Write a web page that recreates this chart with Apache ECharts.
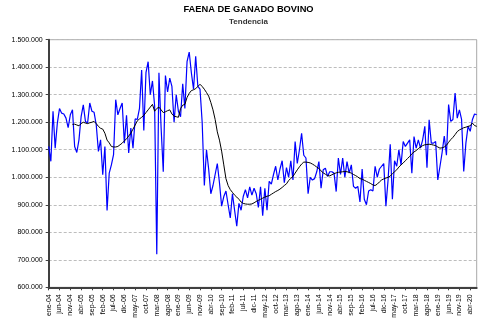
<!DOCTYPE html>
<html>
<head>
<meta charset="utf-8">
<script src="https://cdn.jsdelivr.net/npm/echarts@6/dist/echarts.min.js"></script>
<style>
  html, body { margin: 0; padding: 0; background: #fff; }
  #chart { width: 497px; height: 329px; }
</style>
</head>
<body>
<div id="chart"></div>
<script>
// Monthly cattle slaughter (head), ene-04 .. jul-20
const monthNames = ['ene','feb','mar','abr','may','jun','jul','ago','sep','oct','nov','dic'];
const firstYear = 2004;
const monthCount = 199;

const faena = [
  1112000,1058000,1240000,1106000,1197000,1250000,1233000,1230000,1215000,1180000,1227000,1245000,
  1112000,1090000,1136000,1220000,1263000,1203000,1197000,1270000,1240000,1236000,1190000,1094000,
  1136000,1009000,1112000,879000,1015000,1045000,1082000,1282000,1227000,1250000,1270000,1124000,
  1225000,1088000,1179000,1106000,1212000,1210000,1250000,1390000,1170000,1380000,1420000,1300000,
  1350000,1260000,720000,1380000,1180000,1020000,1370000,1310000,1360000,1330000,1200000,1300000,
  1240000,1220000,1340000,1250000,1420000,1455000,1380000,1320000,1440000,1330000,1320000,1200000,
  970000,1100000,1030000,940000,970000,1010000,1050000,980000,895000,930000,950000,900000,
  852000,940000,880000,822000,905000,880000,930000,955000,925000,965000,935000,960000,
  940000,890000,965000,860000,960000,880000,985000,975000,1010000,1040000,990000,1030000,
  1060000,980000,1035000,1000000,1060000,990000,1130000,1050000,1100000,1160000,1080000,1070000,
  940000,1000000,990000,995000,1020000,1057000,960000,1027000,1033000,1003000,1020000,1020000,
  1015000,948000,1070000,1010000,1070000,1000000,1057000,1015000,1045000,967000,960000,967000,
  910000,1030000,920000,900000,950000,955000,950000,1040000,1000000,1030000,1040000,1050000,
  895000,990000,1120000,920000,1060000,1040000,1100000,1045000,1130000,1112000,1124000,1136000,
  1015000,1148000,1106000,1136000,1106000,1136000,1185000,1035000,1209000,1124000,1124000,1130000,
  990000,1039000,1090000,1150000,1080000,1264000,1203000,1210000,1306000,1215000,1245000,1210000,
  1021000,1124000,1185000,1167000,1209000,1230000,1227000
];

// Trend line, first value at dic-04
const trendStart = 11;
const tendencia = [
  1192000,1193000,1190000,1187000,1195000,1200000,1197000,1195000,1198000,1200000,1203000,1195000,
  1185000,1178000,1175000,1160000,1135000,1125000,1112000,1110000,1110000,1112000,1118000,1124000,
  1132000,1140000,1150000,1160000,1175000,1190000,1205000,1212000,1218000,1225000,1235000,1245000,
  1255000,1265000,1240000,1250000,1255000,1245000,1235000,1238000,1242000,1245000,1230000,1222000,
  1220000,1218000,1250000,1262000,1265000,1290000,1305000,1315000,1318000,1322000,1330000,1338000,
  1330000,1320000,1308000,1295000,1272000,1245000,1210000,1165000,1135000,1095000,1045000,995000,
  970000,955000,945000,935000,928000,920000,910000,905000,903000,902000,902000,903000,
  907000,912000,916000,920000,924000,928000,931000,933000,938000,943000,948000,952000,
  957000,963000,970000,976000,988000,996000,1003000,1015000,1027000,1038000,1048000,1055000,
  1055000,1054000,1052000,1048000,1043000,1037000,1032000,1023000,1016000,1011000,1006000,1005000,
  1009000,1013000,1016000,1018000,1019000,1020000,1021000,1020000,1018000,1015000,1010000,1006000,
  1001000,995000,993000,989000,985000,981000,977000,972000,970000,975000,983000,990000,
  994000,997000,1000000,1004000,1013000,1020000,1027000,1037000,1045000,1052000,1060000,1068000,
  1076000,1085000,1092000,1097000,1104000,1110000,1115000,1118000,1119000,1120000,1119000,1117000,
  1115000,1110000,1106000,1107000,1110000,1116000,1127000,1137000,1145000,1155000,1166000,1172000,
  1176000,1180000,1182000,1185000,1187000,1197000,1188000,1185000
];

const yMin = 600000, yMax = 1500000, yStep = 100000;

const categories = [];
for (let i = 0; i < monthCount; i++) {
  const y = firstYear + Math.floor(i / 12);
  categories.push(monthNames[i % 12] + '-' + String(y % 100).padStart(2, '0'));
}
const trendData = new Array(trendStart).fill(null).concat(tendencia);

function miles(v) {
  return String(v).replace(/\B(?=(\d{3})+(?!\d))/g, '.');
}

const chart = echarts.init(document.getElementById('chart'), null, { renderer: 'canvas' });
chart.setOption({
  animation: false,
  backgroundColor: '#ffffff',
  textStyle: { fontFamily: 'Liberation Sans, Arial, sans-serif' },
  title: [
    {
      text: 'FAENA DE GANADO BOVINO',
      left: 'center', top: 0,
      textStyle: { fontSize: 9.3, fontWeight: 'bold', color: '#000', fontFamily: 'Liberation Sans' }
    },
    {
      text: 'Tendencia',
      left: 'center', top: 13,
      textStyle: { fontSize: 8, fontWeight: 'bold', color: '#333', fontFamily: 'Liberation Sans' }
    }
  ],
  grid: {
    left: 48.7, right: 20.3, top: 39.7, bottom: 41.7,
    show: true, borderColor: '#a8a8a8', borderWidth: 1, backgroundColor: 'transparent'
  },
  xAxis: {
    type: 'category',
    data: categories,
    boundaryGap: false,
    axisLine: { show: true, lineStyle: { color: '#404040', width: 2 } },
    axisTick: { show: true, interval: 4, length: 3, lineStyle: { color: '#404040', width: 1 } },
    axisLabel: {
      interval: 4, rotate: 90, fontSize: 7, color: '#000', margin: 7,
      fontFamily: 'Liberation Sans'
    },
    splitLine: { show: false }
  },
  yAxis: {
    type: 'value',
    min: yMin, max: yMax, interval: yStep,
    axisLine: { show: true, lineStyle: { color: '#404040', width: 2 } },
    axisTick: { show: true, length: 3, lineStyle: { color: '#404040', width: 1 } },
    axisLabel: { fontSize: 7, color: '#000', margin: 6, formatter: miles, fontFamily: 'Liberation Sans' },
    splitLine: { show: true, lineStyle: { color: '#bdbdbd', type: [3, 2], width: 1 } }
  },
  series: [
    {
      name: 'Faena', type: 'line', data: faena,
      showSymbol: false, symbol: 'none',
      lineStyle: { color: '#0000ff', width: 1.2 },
      z: 2
    },
    {
      name: 'Tendencia', type: 'line', data: trendData,
      showSymbol: false, symbol: 'none', connectNulls: false,
      lineStyle: { color: '#000000', width: 1 },
      z: 3
    }
  ]
});
</script>
</body>
</html>
